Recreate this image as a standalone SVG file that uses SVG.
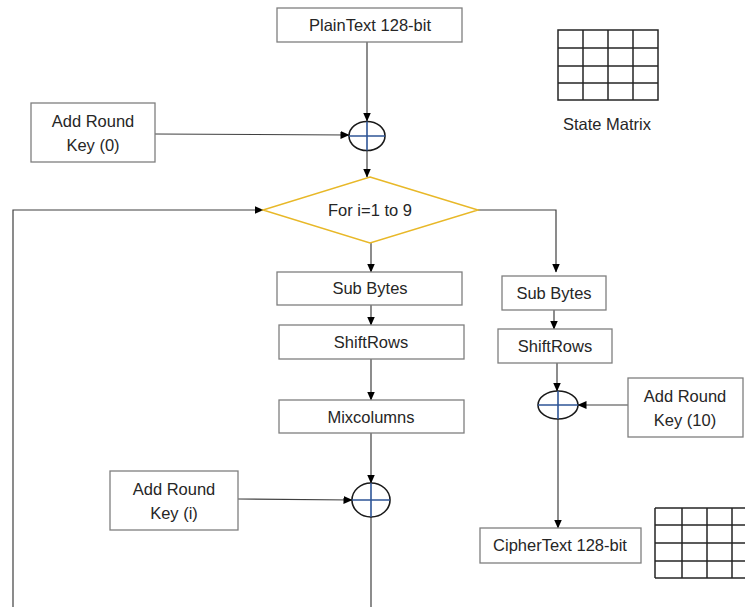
<svg xmlns="http://www.w3.org/2000/svg" width="745" height="607" viewBox="0 0 745 607">
<defs>
<marker id="ah" markerWidth="9" markerHeight="8" refX="8.5" refY="4" orient="auto" markerUnits="userSpaceOnUse">
<path d="M0,0 L9,4 L0,8 Z" fill="#000"/>
</marker>
<style>
.box{fill:#fff;stroke:#7f7f7f;stroke-width:1.3}
.t{font-family:"Liberation Sans",Arial,sans-serif;font-size:16.5px;fill:#262626;text-anchor:middle}
.c{fill:none;stroke:#404040;stroke-width:1.2}
.x{fill:#fff;stroke:#1a1a1a;stroke-width:1.6}
.xl{stroke:#2f5597;stroke-width:1.6}
.g{fill:none;stroke:#262626;stroke-width:1.5}
.d{fill:#fff;stroke:#e8b828;stroke-width:1.5}
</style>
</defs>
<rect width="745" height="607" fill="#fff"/>

<g id="connectors">
<path class="c" d="M367,42 V121" marker-end="url(#ah)"/>
<path class="c" d="M155,134 L349,135" marker-end="url(#ah)"/>
<path class="c" d="M367,150 V177" marker-end="url(#ah)"/>
<path class="c" d="M13,607 V210 H263" marker-end="url(#ah)"/>
<path class="c" d="M478,210 H556 V272" marker-end="url(#ah)"/>
<path class="c" d="M371,243 V272" marker-end="url(#ah)"/>
<path class="c" d="M371,305 V325" marker-end="url(#ah)"/>
<path class="c" d="M371,359 V400" marker-end="url(#ah)"/>
<path class="c" d="M554,310 V329" marker-end="url(#ah)"/>
<path class="c" d="M557,363 V391" marker-end="url(#ah)"/>
<path class="c" d="M628,405 H578" marker-end="url(#ah)"/>
<path class="c" d="M558,419 V528" marker-end="url(#ah)"/>
<path class="c" d="M371,433 V483" marker-end="url(#ah)"/>
<path class="c" d="M238,499 L352,500" marker-end="url(#ah)"/>
<path class="c" d="M371,517 V607"/>
</g>

<g id="plaintext">
<rect class="box" x="277" y="8" width="185" height="34"/>
<text class="t" x="370" y="31">PlainText 128-bit</text>
</g>

<g id="state-matrix">
<rect class="g" x="558" y="30" width="100" height="70"/>
<path class="g" d="M583,30 V100 M608,30 V100 M633,30 V100 M558,48 H658 M558,66 H658 M558,83 H658"/>
<text class="t" x="607" y="130">State Matrix</text>
</g>

<g id="add-round-key-0">
<rect class="box" x="31" y="103" width="124" height="59"/>
<text class="t" x="93" y="127">Add Round</text>
<text class="t" x="93" y="151">Key (0)</text>
</g>

<g id="xor-0">
<ellipse class="x" cx="367" cy="136" rx="18" ry="14.5"/>
<path class="xl" d="M349,136 H385 M367,121.5 V150.5"/>
</g>

<g id="loop">
<polygon class="d" points="370,177 478,210 370,243 263,210"/>
<text class="t" x="370" y="216">For i=1 to 9</text>
</g>

<g id="subbytes-1">
<rect class="box" x="277" y="272" width="185" height="33"/>
<text class="t" x="370" y="294">Sub Bytes</text>
</g>
<g id="shiftrows-1">
<rect class="box" x="279" y="325" width="185" height="34"/>
<text class="t" x="371" y="348">ShiftRows</text>
</g>
<g id="mixcolumns">
<rect class="box" x="279" y="400" width="185" height="33"/>
<text class="t" x="371" y="423">Mixcolumns</text>
</g>

<g id="add-round-key-i">
<rect class="box" x="110" y="471" width="128" height="59"/>
<text class="t" x="174" y="495">Add Round</text>
<text class="t" x="174" y="519">Key (i)</text>
</g>
<g id="xor-i">
<ellipse class="x" cx="371" cy="500" rx="19" ry="17"/>
<path class="xl" d="M352,500 H390 M371,483 V517"/>
</g>

<g id="subbytes-2">
<rect class="box" x="502" y="276" width="104" height="34"/>
<text class="t" x="554" y="299">Sub Bytes</text>
</g>
<g id="shiftrows-2">
<rect class="box" x="498" y="329" width="114" height="34"/>
<text class="t" x="555" y="352">ShiftRows</text>
</g>
<g id="xor-10">
<ellipse class="x" cx="558" cy="405" rx="20" ry="14"/>
<path class="xl" d="M538,405 H578 M558,391 V419"/>
</g>
<g id="add-round-key-10">
<rect class="box" x="628" y="378" width="115" height="59"/>
<text class="t" x="685" y="402">Add Round</text>
<text class="t" x="685" y="426">Key (10)</text>
</g>

<g id="ciphertext">
<rect class="box" x="480" y="528" width="161" height="35"/>
<text class="t" x="560" y="551">CipherText 128-bit</text>
</g>

<g id="output-matrix">
<path class="g" d="M655,508 V578 M682,508 V578 M707,508 V578 M732,508 V578 M655,508 H745 M655,525 H745 M655,543 H745 M655,561 H745 M655,578 H745"/>
</g>
</svg>
